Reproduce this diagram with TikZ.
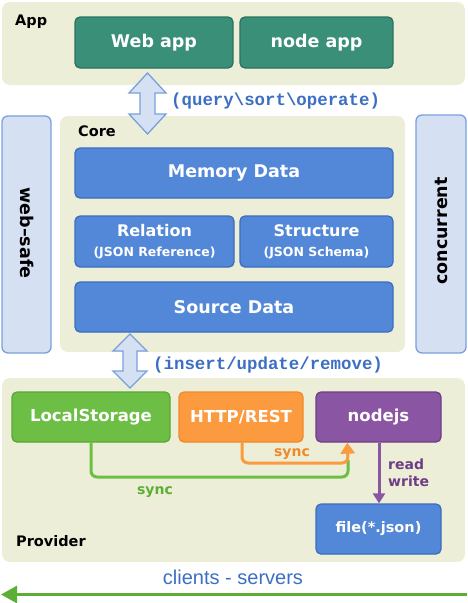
\documentclass[tikz,border=0pt]{standalone}
\usepackage{fontspec}
\setmainfont{DejaVu Sans}
\newfontfamily\monof{Liberation Mono}
\newfontfamily\helvf{Liberation Sans}
\usetikzlibrary{arrows.meta,calc}
\definecolor{panelbg}{HTML}{EDEED8}
\definecolor{tealf}{HTML}{3A8F79}
\definecolor{teald}{HTML}{2A7260}
\definecolor{bluef}{HTML}{5388D8}
\definecolor{blued}{HTML}{3C6DC0}
\definecolor{sidef}{HTML}{D5E0F3}
\definecolor{sided}{HTML}{7AA0DC}
\definecolor{greenf}{HTML}{6CBE45}
\definecolor{greend}{HTML}{5AA835}
\definecolor{orangef}{HTML}{FB9A3E}
\definecolor{oranged}{HTML}{F08A28}
\definecolor{purplef}{HTML}{8A55A2}
\definecolor{purpled}{HTML}{6E3F87}
\definecolor{purplet}{HTML}{6D3D85}
\definecolor{labelblue}{HTML}{3C6FC4}
\definecolor{arrowgreen}{HTML}{5DAE35}
\begin{document}
\begin{tikzpicture}[x=1pt,y=-1pt,
  panel/.style={fill=panelbg, draw=none, rounded corners=8pt, inner sep=0pt},
  bx/.style={rounded corners=5pt, line width=1.3pt, inner sep=0pt, text=white,
    font=\bfseries\fontsize{17.5}{21}\selectfont, align=center},
  tealbox/.style={bx, fill=tealf, draw=teald},
  bluebox/.style={bx, fill=bluef, draw=blued},
  side/.style={rounded corners=6pt, line width=1.3pt, fill=sidef, draw=sided, inner sep=0pt},
  sidetext/.style={font=\bfseries\fontsize{17.5}{21}\selectfont, text=black},
  title/.style={font=\bfseries\fontsize{14.5}{17}\selectfont, text=black, anchor=west, inner sep=0pt},
  provbox/.style={bx, font=\bfseries\fontsize{16.5}{20}\selectfont},
  mono/.style={font=\monof\bfseries\fontsize{17.4}{20}\selectfont, text=labelblue, inner sep=0pt},
  dbl/.style={fill=sidef, draw=sided, line width=1.3pt, line join=miter},
  syncline/.style={line width=3pt, rounded corners=6pt},
  synctext/.style={font=\bfseries\fontsize{14}{17}\selectfont, inner sep=0pt}
]
\useasboundingbox (0,0) rectangle (467,603);
% panels
\node[panel, minimum width=463pt, minimum height=83pt] (apppanel) at (233.5,43.5) {};
\node[panel, minimum width=345pt, minimum height=236pt] (corepanel) at (232.5,234) {};
\node[panel, minimum width=463pt, minimum height=184pt] (provpanel) at (233.5,470) {};
\node[side, minimum width=49pt, minimum height=237pt] (websafe) at (26.5,234.5) {};
\node[side, minimum width=50pt, minimum height=238pt] (concurrent) at (441,234) {};
\node[sidetext, rotate=-90] (websafetxt) at (27,233) {web--safe};
\node[sidetext, rotate=90] (concurrenttxt) at (441.5,231) {concurrent};
% titles
\node[title] (apptitle) at (15,22) {App};
\node[title] (coretitle) at (78,131) {Core};
\node[title] (provtitle) at (16,541) {Provider};
% app boxes
\node[tealbox, minimum width=158pt, minimum height=51pt] (webapp) at (154,42.5) {Web app};
\node[tealbox, minimum width=153pt, minimum height=51pt] (nodeapp) at (316.5,42.5) {node app};
% core boxes
\node[bluebox, minimum width=318pt, minimum height=50pt] (memory) at (234,173) {Memory Data};
\node[bluebox, minimum width=159pt, minimum height=51pt] (relation) at (154.5,241.5)
  {{\fontsize{16}{20}\selectfont Relation}\\[-1pt]{\fontsize{12.5}{14}\selectfont (JSON Reference)}};
\node[bluebox, minimum width=153pt, minimum height=51pt] (structure) at (316.5,241.5)
  {{\fontsize{16}{20}\selectfont Structure}\\[-1pt]{\fontsize{12.5}{14}\selectfont (JSON Schema)}};
\node[bluebox, minimum width=318pt, minimum height=50pt] (source) at (234,307) {Source Data};
% provider boxes
\node[provbox, fill=greenf, draw=greend, minimum width=158pt, minimum height=50pt] (local) at (91,417) {LocalStorage};
\node[provbox, fill=orangef, draw=oranged, minimum width=124pt, minimum height=50pt] (http) at (241,417) {HTTP/REST};
\node[provbox, fill=purplef, draw=purpled, minimum width=125pt, minimum height=50pt] (nodejs) at (378.5,417) {nodejs};
\node[bluebox, font=\bfseries\fontsize{14.5}{18}\selectfont, minimum width=125pt, minimum height=50pt] (file) at (378.5,529) {file(*.json)};
% double arrows
\draw[dbl] (147.5,73) -- (166,93) -- (155,93) -- (155,114) -- (166,114) -- (147.5,134)
  -- (129,114) -- (140,114) -- (140,93) -- (129,93) -- cycle;
\node[mono, anchor=west] (qlabel) at (171,101) {(query\textbackslash sort\textbackslash operate)};
\draw[dbl] (130,334) -- (147,351) -- (137,351) -- (137,371) -- (147,371) -- (130,388)
  -- (113,371) -- (123,371) -- (123,351) -- (113,351) -- cycle;
\node[mono, anchor=west] (ilabel) at (153,365) {(insert/update/remove)};
% sync lines
\coordinate (synctarget) at ($(nodejs.south west)+(32,0)$);
\draw[syncline, draw=greenf] (local.south) -- (91,477) -- (348,477) -- (348,460);
\draw[syncline, draw=orangef, -{Triangle[width=14pt,length=11pt]}] (242,442.6) -- (242,463) -- (348,463) -- (synctarget);
\node[synctext, text=oranged] (sync1) at (292,454) {sync};
\node[synctext, text=arrowgreen] (sync2) at (155,492) {sync};
% read write
\draw[line width=3pt, draw=purplef, -{Triangle[width=12pt,length=10pt]}] (nodejs.south -| 379,0) -- (file.north -| 379,0);
\node[synctext, text=purplet, anchor=west, align=left] (rw) at (388,473) {read\\write};
% clients - servers
\node[font=\helvf\fontsize{20}{24}\selectfont, text=labelblue, inner sep=0pt] (cs) at (233,577) {clients - servers};
\coordinate (arrstart) at (467,594.5);
\coordinate (arrend) at (1,594.5);
\draw[line width=3pt, draw=arrowgreen, -{Triangle[width=17pt,length=16pt]}] (arrstart) -- (arrend);
\end{tikzpicture}
\end{document}
